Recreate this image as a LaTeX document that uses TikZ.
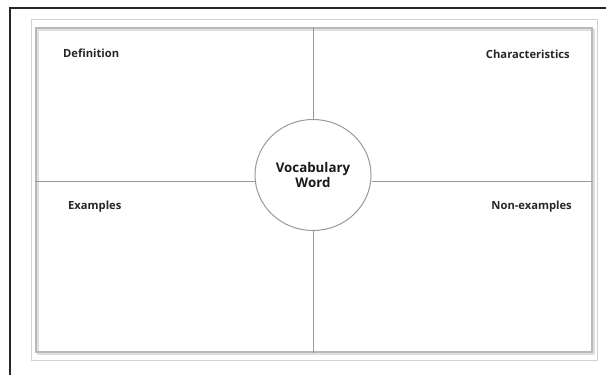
\documentclass[tikz,border=0pt]{standalone}
\usepackage{fontspec}
\setmainfont{Open Sans}
\usetikzlibrary{shapes.geometric}

\begin{document}
\begin{tikzpicture}[
    x=1pt, y=-1pt, % 1px = 1pt、y は下向き
    frame/.style={line width=1.8pt, black!85},
    divider/.style={line width=1pt, gray!80},
    cornertext/.style={font=\fontsize{11.2}{12}\selectfont\bfseries, text=black!85, inner sep=0pt},
    wordcircle/.style={ellipse, draw=gray!80, line width=1pt, fill=white,
      minimum width=116pt, minimum height=111pt, align=center,
      font=\fontsize{13.3}{13}\selectfont\bfseries, text=black!90}
  ]
  \useasboundingbox (0,0) rectangle (606,375);

  % 外側の黒い枠（上と左だけ）
  \draw[frame] (606,8) -- (10,8) -- (10,375);

  % 薄い外枠
  \draw[gray!35, line width=1pt] (31,19) rectangle (597,360);

  % カード（影付き）
  \draw[gray!25, line width=2pt] (37.5,29.5) rectangle (593.5,353.5);
  \node[draw=gray!55, line width=1.2pt, minimum width=556pt, minimum height=324pt,
    inner sep=0pt] (card) at (314,190) {};

  % 中央の円
  \node[wordcircle] (word) at (313,175) {Vocabulary\\Word};

  % 十字の区切り線
  \coordinate (hline) at (313,181);
  \draw[divider] (word.north) -- (word.north |- card.north);
  \draw[divider] (word.south) -- (word.south |- card.south);
  \draw[divider] (hline -| card.west) -- (hline -| word.west);
  \draw[divider] (hline -| word.east) -- (hline -| card.east);

  % 各マスの見出し
  \node[cornertext, anchor=west] (definition) at (63,53) {Definition};
  \node[cornertext, anchor=east] (characteristics) at (570,54) {Characteristics};
  \node[cornertext, anchor=west] (examples) at (68,207) {Examples};
  \node[cornertext, anchor=east] (nonexamples) at (572,207) {Non-examples};
\end{tikzpicture}
\end{document}
